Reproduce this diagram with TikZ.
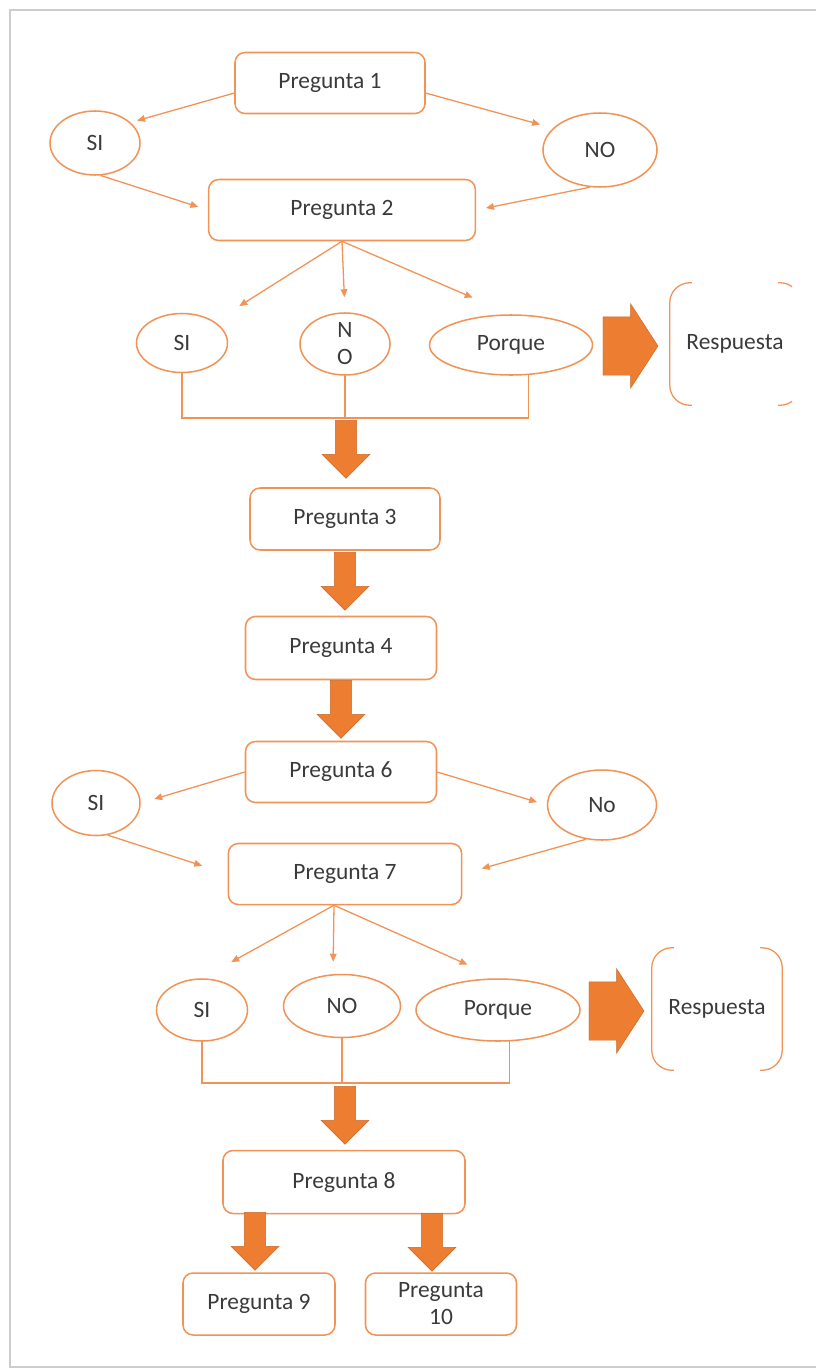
\documentclass[tikz,border=0pt]{standalone}
\usepackage{fontspec}
\setmainfont{Carlito}
\usetikzlibrary{shapes.geometric,shapes.arrows,arrows.meta,calc}
\definecolor{lineorange}{RGB}{241,146,86}
\definecolor{fillorange}{RGB}{237,125,49}
\definecolor{textgray}{RGB}{58,58,58}
\definecolor{framegray}{RGB}{205,205,205}
\begin{document}
\begin{tikzpicture}[
    x=0.03cm, y=-0.03cm,
    font=\fontsize{20}{23}\selectfont, text=textgray,
    question/.style={rectangle, draw=lineorange, line width=1.3pt, rounded corners=0.3cm, inner sep=0pt, align=center},
    answer/.style={ellipse, draw=lineorange, line width=1.3pt, inner sep=0pt, align=center},
    link/.style={draw=lineorange, line width=1.1pt, -{Triangle[length=0.24cm,width=0.2cm]}},
    junction/.style={draw=lineorange, line width=1.1pt},
    bigdown/.style={single arrow, fill=fillorange, draw=fillorange!85!black, line width=0.4pt, rotate=-90, inner xsep=0pt, inner ysep=0.31cm, single arrow head extend=0.4cm, single arrow tip angle=90, minimum height=1.74cm},
    bigright/.style={single arrow, fill=fillorange, draw=fillorange!85!black, line width=0.4pt, inner xsep=0pt, inner ysep=0.87cm, single arrow head extend=0.39cm, single arrow tip angle=114, minimum height=1.65cm},
    bracket/.style={draw=lineorange, line width=1.1pt, rounded corners=0.6cm}
]
\useasboundingbox (0,0) rectangle (816,1370);
\draw[framegray, line width=1.6pt] (816,10) -- (10,10) -- (10,1367) -- (816,1367);

\node[question, minimum width=5.7cm, minimum height=1.83cm] (p1) at (330,83) {Pregunta 1};
\node[answer, minimum width=2.7cm, minimum height=1.92cm] (si1) at (95,143) {SI};
\node[answer, minimum width=3.42cm, minimum height=2.22cm] (no1) at (600,150) {NO};
\node[question, minimum width=8.0cm, minimum height=1.83cm] (p2) at (342,210) {Pregunta 2};
\node[answer, minimum width=2.73cm, minimum height=1.77cm] (si2) at (182,343) {SI};
\node[answer, minimum width=2.7cm, minimum height=1.86cm] (no2) at (345,344) {N\\O};
\node[answer, minimum width=4.89cm, minimum height=1.8cm] (pq1) at (511,345) {Porque};
\node[bigright] (ar1) at (621,346) {};
\node[minimum width=3.9cm, minimum height=3.66cm, inner sep=0pt] (r1) at (735,344) {Respuesta};

\draw[link, shorten >=0.2cm] (p1.186) -- (si1.30);
\draw[link, shorten >=0.4cm] (p1.-6) -- (no1.155);
\draw[link, shorten >=0.3cm] (si1.-80) -- (p2.west);
\draw[link, shorten >=0.3cm] (no1.-105) -- (p2.east);
\draw[link, shorten >=0.87cm] (p2.south) -- (si2.north east);
\draw[link, shorten >=0.45cm] (p2.south) -- (no2.north);
\draw[link, shorten >=1.25cm] (p2.south) -- (pq1.north);

\begin{scope}
\clip (0,0) rectangle (792,1370);
\draw[bracket] ($(r1.north west)+(22,0)$) -- (r1.north west) -- (r1.south west) -- ++(22,0);
\draw[bracket] ($(r1.north east)+(-22,0)$) -- (r1.north east) -- (r1.south east) -- ++(-22,0);
\end{scope}

\coordinate (j1) at (345,418);
\draw[junction] (si2.south) |- (j1) -| (pq1.-60);
\draw[junction] (no2.south) -- (no2.south |- j1);

\node[bigdown] (d1) at (346,444) {};
\node[question, minimum width=5.7cm, minimum height=1.86cm] (p3) at (345,519) {Pregunta 3};
\node[bigdown] (d2) at (345,576) {};
\node[question, minimum width=5.73cm, minimum height=1.89cm] (p4) at (341,648) {Pregunta 4};
\node[bigdown] (d3) at (341,704) {};
\node[question, minimum width=5.73cm, minimum height=1.83cm] (p6) at (341,772) {Pregunta 6};
\node[answer, minimum width=2.64cm, minimum height=1.95cm] (si3) at (96,803) {SI};
\node[answer, minimum width=3.27cm, minimum height=2.1cm] (no3) at (602,805) {No};
\node[question, minimum width=7.0cm, minimum height=1.83cm] (p7) at (345,874) {Pregunta 7};
\node[answer, minimum width=2.73cm, minimum height=1.86cm] (si4) at (202,1010) {SI};
\node[answer, minimum width=3.51cm, minimum height=1.89cm] (no4) at (342,1006) {NO};
\node[answer, minimum width=4.92cm, minimum height=1.86cm] (pq2) at (498,1010) {Porque};
\node[bigright] (ar2) at (607,1011) {};
\node[minimum width=3.9cm, minimum height=3.66cm, inner sep=0pt] (r2) at (717,1009) {Respuesta};

\draw[link, shorten >=0.42cm] (p6.west) -- (si3.east);
\draw[link, shorten >=0.3cm] (p6.east) -- (no3.west);
\draw[link, shorten >=0.8cm] (si3.-70) -- (p7.west);
\draw[link, shorten >=0.6cm] (no3.-115) -- (p7.east);
\draw[link, shorten >=1.0cm] ($(p7.south)+(-11,0)$) -- (si4.north);
\draw[link, shorten >=0.36cm] ($(p7.south)+(-11,0)$) -- ($(no4.north)+(-9,0)$);
\draw[link, shorten >=1.0cm] ($(p7.south)+(-11,0)$) -- (pq2.north);

\draw[bracket] ($(r2.north west)+(22,0)$) -- (r2.north west) -- (r2.south west) -- ++(22,0);
\draw[bracket] ($(r2.north east)+(-22,0)$) -- (r2.north east) -- (r2.south east) -- ++(-22,0);

\coordinate (j2) at (342,1083);
\draw[junction] (si4.south) |- (j2) -| (pq2.-70);
\draw[junction] (no4.south) -- (no4.south |- j2);

\node[bigdown] (d4) at (345,1110) {};
\node[question, minimum width=7.26cm, minimum height=1.89cm] (p8) at (344,1182) {Pregunta 8};
\node[bigdown] (d5) at (255,1236) {};
\node[bigdown] (d6) at (432,1237) {};
\node[question, minimum width=4.56cm, minimum height=1.86cm] (p9) at (259,1304) {Pregunta 9};
\node[question, minimum width=4.53cm, minimum height=1.86cm] (p10) at (441,1304) {Pregunta\\10};
\end{tikzpicture}
\end{document}
